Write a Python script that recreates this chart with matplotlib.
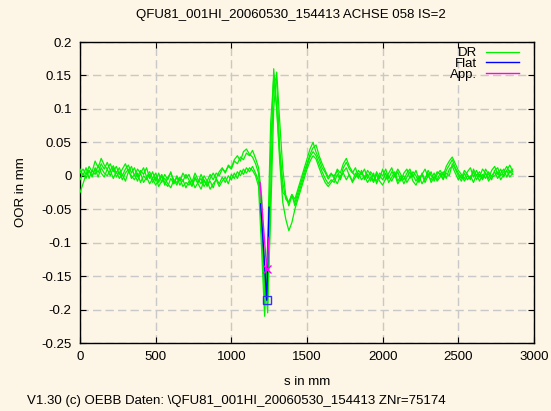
import matplotlib
matplotlib.use("Agg")
import matplotlib.pyplot as plt
import numpy as np

plt.rcParams['font.family'] = ['Liberation Sans', 'DejaVu Sans']

# position grid in mm (every 20 mm, 0 .. 2860)
s = np.arange(0, 2861, 20)

# measured curves (OOR in mm), 12 values per row = 240 mm
dr_a = [-0.025, -0.012, 0.002, 0.008, -0.002, 0.012, 0.005, 0.018, 0.010, 0.020, 0.008, 0.015,
        0.004, 0.012, 0.000, 0.010, 0.016, 0.004, 0.012, -0.002, 0.008, 0.002, 0.012, -0.004,
        0.006, -0.008, 0.004, -0.010, 0.002, -0.006, 0.006, -0.012, 0.000, -0.008, 0.004, -0.004,
        0.002, -0.010, 0.004, -0.006, -0.012, 0.000, -0.008, 0.002, -0.006, 0.004, 0.000, 0.010,
        0.006, 0.014, 0.010, 0.022, 0.018, 0.028, 0.024, 0.034, 0.030, 0.038, 0.026, 0.012,
        -0.030, -0.140, -0.205, -0.020, 0.160, 0.100, 0.030, -0.025, -0.030, -0.040, -0.028, -0.035,
        -0.020, -0.005, 0.010, 0.025, 0.040, 0.050, 0.035, 0.025, 0.012, 0.005, -0.005, 0.002,
        0.000, 0.008, -0.004, 0.012, 0.020, 0.010, 0.004, 0.012, -0.002, 0.006, -0.004, 0.008,
        0.002, -0.008, 0.006, -0.004, 0.010, -0.006, 0.004, 0.012, -0.002, 0.006, -0.008, 0.004,
        0.010, -0.004, 0.006, 0.000, -0.010, 0.004, -0.006, 0.008, 0.000, -0.004, 0.006, 0.002,
        -0.006, 0.008, 0.016, 0.024, 0.012, 0.004, -0.004, 0.008, 0.002, -0.006, 0.010, 0.000,
        0.006, -0.004, 0.010, 0.002, -0.006, 0.008, 0.012, 0.000, 0.006, 0.014, 0.004, 0.010]

dr_b = [0.004, 0.010, 0.002, 0.014, 0.006, 0.022, 0.012, 0.026, 0.016, 0.010, 0.018, 0.006,
        0.014, 0.002, 0.010, 0.018, 0.006, 0.014, 0.000, 0.010, 0.004, 0.012, -0.002, 0.006,
        -0.004, 0.004, -0.010, 0.000, -0.014, -0.002, 0.004, -0.006, -0.014, -0.002, -0.008, 0.002,
        -0.006, -0.014, -0.002, -0.010, 0.002, -0.008, -0.016, -0.004, 0.004, -0.004, 0.006, 0.012,
        0.004, 0.016, 0.012, 0.024, 0.030, 0.022, 0.036, 0.040, 0.032, 0.028, 0.018, 0.004,
        -0.060, -0.170, -0.190, -0.060, 0.100, 0.155, 0.080, 0.010, -0.030, -0.045, -0.030, -0.040,
        -0.025, -0.010, 0.005, 0.018, 0.032, 0.042, 0.046, 0.030, 0.018, 0.008, -0.002, 0.004,
        -0.004, 0.010, 0.004, 0.018, 0.026, 0.014, 0.006, -0.002, 0.008, 0.002, 0.010, -0.004,
        0.006, 0.000, -0.008, 0.004, 0.000, 0.010, -0.004, 0.006, 0.000, 0.010, 0.002, -0.006,
        0.004, 0.010, -0.002, 0.008, -0.006, 0.002, 0.010, -0.002, 0.006, -0.008, 0.002, 0.008,
        0.000, 0.014, 0.022, 0.028, 0.018, 0.008, 0.002, -0.004, 0.006, 0.012, -0.002, 0.008,
        -0.002, 0.010, 0.004, -0.004, 0.008, 0.014, 0.002, 0.010, -0.002, 0.008, 0.016, 0.006]

dr_c = [0.010, 0.000, 0.012, -0.004, 0.008, 0.002, 0.016, 0.004, -0.002, 0.010, 0.000, 0.012,
        -0.002, 0.006, -0.006, 0.004, 0.010, -0.004, 0.002, -0.008, 0.004, -0.010, -0.002, -0.012,
        -0.004, -0.014, -0.006, 0.002, -0.010, -0.016, -0.004, -0.012, -0.002, -0.014, -0.006, -0.018,
        -0.008, -0.016, -0.004, -0.012, -0.020, -0.006, -0.014, -0.008, -0.018, -0.004, -0.012, -0.002,
        -0.010, 0.000, -0.006, 0.004, -0.004, 0.008, 0.002, 0.012, 0.006, 0.014, 0.004, -0.008,
        -0.080, -0.180, -0.150, 0.040, 0.150, 0.140, 0.040, -0.010, -0.035, -0.040, -0.028, -0.045,
        -0.030, -0.015, 0.000, 0.015, 0.028, 0.036, 0.030, 0.018, 0.006, -0.004, -0.012, -0.006,
        -0.010, 0.002, -0.006, 0.006, 0.012, 0.000, -0.008, 0.004, -0.004, 0.008, -0.006, 0.002,
        -0.008, 0.004, -0.012, 0.000, -0.006, 0.004, -0.010, -0.002, 0.006, -0.008, 0.000, -0.012,
        -0.002, 0.006, -0.008, -0.014, -0.004, 0.002, -0.010, 0.000, -0.006, 0.004, -0.008, -0.002,
        0.006, -0.004, 0.010, 0.014, 0.004, -0.006, 0.002, -0.008, 0.000, -0.004, 0.006, -0.006,
        0.002, -0.006, 0.004, -0.008, 0.000, 0.006, -0.004, 0.004, 0.010, -0.002, 0.008, 0.002]

dr_d = [-0.006, 0.004, -0.004, 0.008, 0.000, 0.010, -0.002, 0.012, 0.004, 0.000, 0.008, -0.004,
        0.006, -0.004, 0.002, -0.008, 0.006, 0.000, -0.006, 0.004, -0.010, 0.000, -0.006, 0.002,
        -0.010, -0.002, -0.016, -0.008, -0.004, -0.012, -0.018, -0.006, -0.010, -0.004, -0.016, -0.010,
        -0.014, -0.006, -0.018, -0.010, -0.004, -0.016, -0.008, -0.020, -0.012, -0.006, -0.016, -0.008,
        -0.002, -0.012, 0.002, -0.004, 0.006, 0.000, 0.010, 0.004, 0.012, 0.008, 0.000, -0.016,
        -0.110, -0.210, -0.100, 0.080, 0.145, 0.100, 0.020, -0.040, -0.065, -0.082, -0.070, -0.050,
        -0.035, -0.020, -0.005, 0.010, 0.022, 0.030, 0.025, 0.012, 0.000, -0.010, -0.016, -0.010,
        -0.004, -0.012, 0.000, 0.004, -0.006, 0.002, -0.010, -0.002, 0.004, -0.006, 0.000, -0.010,
        -0.002, -0.010, 0.002, -0.008, -0.014, -0.004, 0.000, -0.008, 0.002, -0.012, -0.004, 0.000,
        -0.010, -0.002, 0.002, -0.008, 0.000, -0.012, -0.004, 0.004, -0.010, -0.002, -0.006, 0.004,
        -0.004, 0.004, 0.000, 0.018, 0.010, 0.000, -0.008, 0.004, -0.006, 0.000, -0.010, 0.002,
        -0.008, 0.002, -0.004, 0.006, -0.002, 0.000, 0.006, -0.006, 0.002, 0.008, -0.002, 0.004]

# fitted flat and approximation
flat_s = [1194, 1234, 1249]
flat_y = [-0.042, -0.186, -0.047]
app_s = [1190, 1234, 1249]
app_y = [-0.010, -0.140, -0.092]

title = "QFU81_001HI_20060530_154413 ACHSE 058 IS=2"
footer = "V1.30 (c) OEBB Daten: \\QFU81_001HI_20060530_154413 ZNr=75174"
bg = "#fdf5e5"
fs = 9.5

fig = plt.figure(figsize=(5.51, 4.11), dpi=100, facecolor=bg)
ax = fig.add_axes([80/551, 68/411, 454/551, 301/411])
ax.set_facecolor(bg)

first = True
for y in (dr_a, dr_b, dr_c, dr_d):
    ax.plot(s, y, color="#00f000", lw=0.9, label="DR" if first else None, zorder=3)
    first = False
ax.plot(flat_s, flat_y, color="#0000ff", lw=1.0, label="Flat", zorder=4)
ax.plot(flat_s[1], flat_y[1], marker="s", ms=6, mfc="none", mec="#3030ff", mew=1.0, zorder=5)
ax.plot(app_s, app_y, color="#ff00ff", lw=1.0, label="App.", zorder=4)
ax.plot(app_s[1], app_y[1], marker="x", ms=6, color="#ff00ff", mew=1.0, zorder=5)

ax.set_xlim(0, 3000)
ax.set_ylim(-0.25, 0.2)
ax.set_xticks(np.arange(0, 3001, 500))
ax.set_yticks(np.arange(-0.25, 0.201, 0.05))
ax.set_yticklabels(["-0.25", "-0.2", "-0.15", "-0.1", "-0.05", "0", "0.05", "0.1", "0.15", "0.2"])
ax.tick_params(direction="in", length=4, top=True, right=True, labelsize=fs, pad=6)
ax.grid(True, color="#c8c8c8", lw=1.0, dashes=(6, 3))
for sp in ax.spines.values():
    sp.set_linewidth(1.0)

ax.set_xlabel("s in mm", fontsize=fs, labelpad=9)
ax.set_ylabel("OOR in mm", fontsize=fs, labelpad=10)

leg = ax.legend(loc="upper right", frameon=False, markerfirst=False, fontsize=fs,
                handlelength=2.5, handletextpad=0.7, labelspacing=-0.12,
                borderaxespad=0.1, bbox_to_anchor=(0.982, 1.005))
for t in leg.get_texts():
    t.set_ha("right")

fig.text(291/551, 1 - 15/411, title, ha="center", va="center", fontsize=fs)
fig.text(27/551, 1 - 401/411, footer, ha="left", va="center", fontsize=fs)

fig.savefig("out.png", dpi=100, facecolor=bg)
